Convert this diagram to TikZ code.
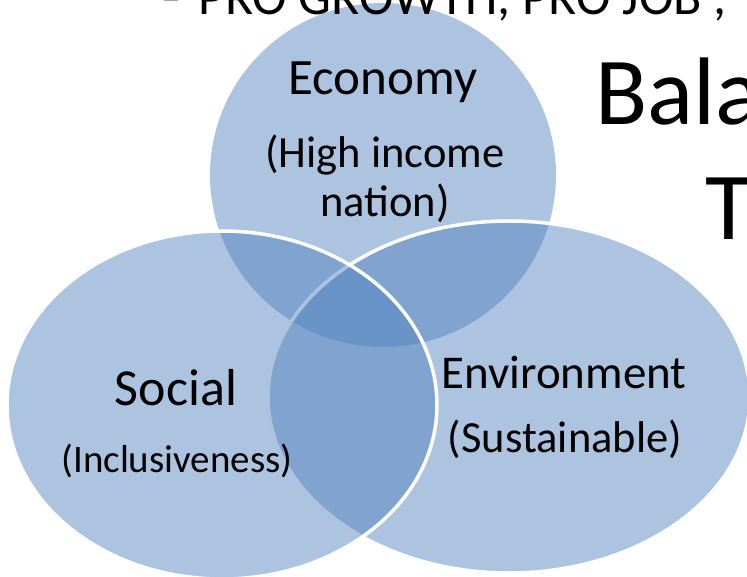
\documentclass[tikz,border=0pt]{standalone}
\usepackage{fontspec}
\setmainfont{Carlito}
\usepackage{tikz}
\definecolor{vennblue}{HTML}{4F81BD}
\definecolor{dashgray}{HTML}{A6A6A6}

\begin{document}
\begin{tikzpicture}[x=1pt,y=-1pt,
  venn/.style={fill=vennblue,fill opacity=0.47},
  rim/.style={draw=white,line width=3.5pt},
  lbl/.style={inner sep=0pt,anchor=base,text=black}]
  \useasboundingbox (0,0) rectangle (747,577);
  \clip (0,0) rectangle (747,577);
  % the three sets
  \coordinate (E) at (383,175);
  \coordinate (V) at (509,397);
  \coordinate (S) at (222,405);
  \fill[venn] (E) ellipse [x radius=173pt,y radius=172pt];
  \draw[venn,rim] (V) ellipse [x radius=241pt,y radius=176pt];
  \draw[venn,rim] (S) ellipse [x radius=215pt,y radius=174pt];
  % labels
  \node[lbl,font=\fontsize{51}{55}\selectfont] (eco) at (383,95) {Economy};
  \node[lbl,font=\fontsize{44.5}{49}\selectfont] (ecoa) at (385,168) {(High income};
  \node[lbl,font=\fontsize{44.5}{49}\selectfont] (ecob) at (385,217) {nation)};
  \node[lbl,font=\fontsize{52}{56}\selectfont] (soc) at (176,405) {Social};
  \node[lbl,font=\fontsize{39}{44}\selectfont] (socsub) at (177,472) {(Inclusiveness)};
  \node[lbl,font=\fontsize{47}{52}\selectfont] (env) at (564,388) {Environment};
  \node[lbl,font=\fontsize{44.5}{49}\selectfont] (envsub) at (565,452) {(Sustainable)};
  % slide text behind
  \node[lbl,anchor=base west,text=dashgray,font=\fontsize{40}{44}\selectfont] (dash) at (161,12) {–};
  \node[lbl,anchor=base west,font=\fontsize{52}{56}\selectfont] (head) at (198,15) {PRO GROWTH, PRO JOB ,};
  \node[lbl,anchor=base west,font=\fontsize{96}{100}\selectfont] (bal) at (595,125) {Bala};
  \node[lbl,anchor=base west,font=\fontsize{96}{100}\selectfont] (tra) at (705,240) {T};
\end{tikzpicture}
\end{document}
